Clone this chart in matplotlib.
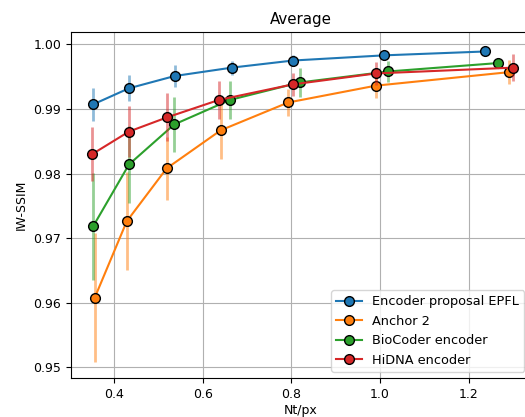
import matplotlib
matplotlib.use("Agg")
import matplotlib.pyplot as plt
import numpy as np

plt.rcParams["font.size"] = 9

# rate (Nt/px), mean IW-SSIM and std for each encoder
epfl_x = np.array([0.353, 0.434, 0.537, 0.666, 0.804, 1.009, 1.237])
epfl_y = np.array([0.9907, 0.9932, 0.9951, 0.9964, 0.9975, 0.9983, 0.9989])
epfl_err = np.array([0.0026, 0.0020, 0.0017, 0.0011, 0.0008, 0.0005, 0.0004])

anchor_x = np.array([0.357, 0.429, 0.519, 0.641, 0.793, 0.990, 1.291])
anchor_y = np.array([0.9608, 0.9726, 0.9808, 0.9867, 0.9910, 0.9936, 0.9957])
anchor_err = np.array([0.0100, 0.0076, 0.0049, 0.0045, 0.0021, 0.0019, 0.0019])

bio_x = np.array([0.353, 0.434, 0.536, 0.662, 0.819, 1.018, 1.265])
bio_y = np.array([0.9718, 0.9814, 0.9876, 0.9914, 0.9941, 0.9958, 0.9971])
bio_err = np.array([0.0083, 0.0060, 0.0042, 0.0030, 0.0022, 0.0016, 0.0008])

hidna_x = np.array([0.351, 0.434, 0.520, 0.637, 0.803, 0.991, 1.301])
hidna_y = np.array([0.9830, 0.9865, 0.9887, 0.9914, 0.9938, 0.9955, 0.9964])
hidna_err = np.array([0.0042, 0.0040, 0.0037, 0.0030, 0.0018, 0.0018, 0.0021])

series = [
    ("Encoder proposal EPFL", epfl_x, epfl_y, epfl_err, "tab:blue"),
    ("Anchor 2", anchor_x, anchor_y, anchor_err, "tab:orange"),
    ("BioCoder encoder", bio_x, bio_y, bio_err, "tab:green"),
    ("HiDNA encoder", hidna_x, hidna_y, hidna_err, "tab:red"),
]

fig = plt.figure(figsize=(5.25, 4.17), dpi=100)
ax = fig.add_axes([0.135, 0.093, 0.876, 0.830])

for name, x, y, err, c in series:
    # std bars drawn faded, mean curve on top
    ax.errorbar(x, y, yerr=err, fmt="none", ecolor=c, elinewidth=2, alpha=0.5)
    ax.plot(x, y, color=c, marker="o", markersize=7, markeredgecolor="black",
            lw=1.5, label=name)

ax.set_xlim(0.303, 1.34)
ax.set_ylim(0.9483, 1.0019)
ax.set_yticks([0.95, 0.96, 0.97, 0.98, 0.99, 1.00])
ax.set_xticks([0.4, 0.6, 0.8, 1.0, 1.2])
ax.grid(True)
ax.set_axisbelow(True)
ax.set_title("Average", fontsize=10.8)
ax.set_xlabel("Nt/px", labelpad=2)
ax.set_ylabel("IW-SSIM")
ax.legend(loc="lower right", fontsize=9.3)

fig.savefig("out.png", dpi=100)
